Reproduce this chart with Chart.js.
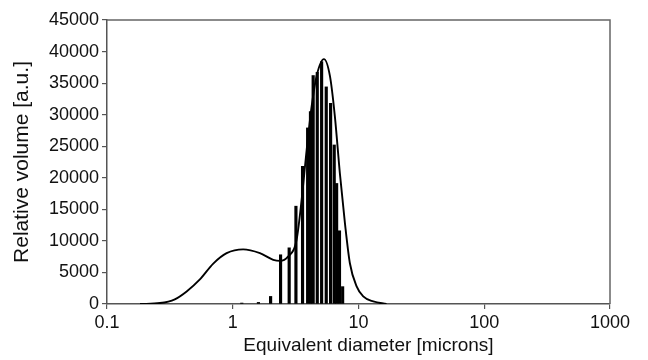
<!DOCTYPE html>
<html>
<head>
<meta charset="utf-8">
<script src="https://cdn.jsdelivr.net/npm/chart.js@4.4.1/dist/chart.umd.min.js"></script>
<style>
  html, body { margin: 0; padding: 0; background: #fff; }
  #wrap { position: relative; width: 648px; height: 360px; }
</style>
</head>
<body>
<div id="wrap"><canvas id="chart"></canvas></div>
<script>
/* ── Data ── */
// smooth size-distribution curve (diameter in microns, relative volume)
var curveX = [0.183, 0.264, 0.346, 0.43, 0.548, 0.70, 0.894, 1.21, 1.645, 2.10, 2.37, 2.75,
              3.22, 3.53, 3.87, 4.24, 4.64, 5.31, 5.93, 6.49, 7.11, 7.80, 8.54, 9.66, 10.9, 13.1, 16.7];
var curveY = [0, 150, 750, 2000, 3900, 6400, 8050, 8650, 8050, 7000, 6830, 7500,
              10200, 16500, 24400, 31300, 36100, 38800, 36100, 29700, 20700, 12800, 6460, 2800, 1200, 400, 0];

// measured histogram bars
var barX = [1.18, 1.60, 2.00, 2.40, 2.81, 3.18, 3.59, 3.94, 4.15, 4.36, 4.70, 5.09, 5.54, 6.00, 6.41, 6.70, 7.06, 7.48];
var barY = [150, 250, 1200, 7800, 8900, 15500, 21800, 27900, 30500, 36200, 36700, 38400, 34400, 31800, 25200, 19100, 11600, 2750];

var xTicks = [0.1, 1, 10, 100, 1000];
var yMax = 45000;
var yStep = 5000;
var xTitle = 'Equivalent diameter [microns]';

var FONT = '"Liberation Sans", Arial, Helvetica, sans-serif';

/* ── Frame: top and right border of the plot box, plus x title ── */
var boxPlugin = {
  id: 'box',
  afterDraw: function(chart) {
    var a = chart.chartArea, ctx = chart.ctx;
    ctx.save();
    ctx.strokeStyle = '#666';
    ctx.lineWidth = 1.5;
    ctx.beginPath();
    ctx.moveTo(a.left, a.top);
    ctx.lineTo(a.right, a.top);
    ctx.lineTo(a.right, a.bottom);
    ctx.stroke();

    // x-axis title, sits a little right of the plot centre in the original
    ctx.fillStyle = '#111';
    ctx.font = '19px ' + FONT;
    ctx.textAlign = 'center';
    ctx.textBaseline = 'middle';
    ctx.fillText(xTitle, (a.left + a.right) / 2 + 10, 346);
    ctx.restore();
  }
};

new Chart(document.getElementById('chart'), {
  type: 'bar',
  data: {
    datasets: [
      {
        type: 'line',
        data: curveX.map(function(x, i) { return { x: x, y: curveY[i] }; }),
        borderColor: '#000',
        borderWidth: 1.9,
        pointRadius: 0,
        cubicInterpolationMode: 'monotone',
        fill: false,
        order: 0
      },
      {
        type: 'bar',
        data: barX.map(function(x, i) { return { x: x, y: barY[i] }; }),
        backgroundColor: '#000',
        borderWidth: 0,
        barThickness: 2.5,
        order: 1
      }
    ]
  },
  options: {
    responsive: true,
    maintainAspectRatio: false,
    animation: false,
    layout: { padding: { left: 0, right: 38, top: 20, bottom: 0 } },
    plugins: { legend: { display: false }, tooltip: { enabled: false } },
    scales: {
      x: {
        type: 'logarithmic',
        min: 0.1,
        max: 1000,
        offset: false,
        afterBuildTicks: function(axis) {
          axis.ticks = xTicks.map(function(v) { return { value: v }; });
        },
        afterFit: function(axis) { axis.height = 56; },
        grid: { offset: false, drawOnChartArea: false, drawTicks: true, tickLength: 5, color: '#555', lineWidth: 1.2 },
        border: { display: true, color: '#555', width: 1.5 },
        ticks: {
          autoSkip: false,
          maxRotation: 0,
          padding: 3,
          color: '#111',
          font: { family: FONT, size: 18 },
          callback: function(v) { return String(v); }
        },
        title: { display: false }
      },
      y: {
        min: 0,
        max: yMax,
        afterFit: function(axis) { axis.width = 107; },
        grid: { drawOnChartArea: false, drawTicks: true, tickLength: 5, color: '#555', lineWidth: 1.2 },
        border: { display: true, color: '#555', width: 1.5 },
        ticks: {
          stepSize: yStep,
          padding: 3,
          color: '#111',
          font: { family: FONT, size: 18 },
          callback: function(v) { return String(v); }
        },
        title: {
          display: true,
          text: 'Relative volume [a.u.]',
          color: '#111',
          font: { family: FONT, size: 21, lineHeight: 1.2 },
          padding: { top: 10, bottom: 0 }
        }
      }
    }
  },
  plugins: [boxPlugin]
});
</script>
</body>
</html>
